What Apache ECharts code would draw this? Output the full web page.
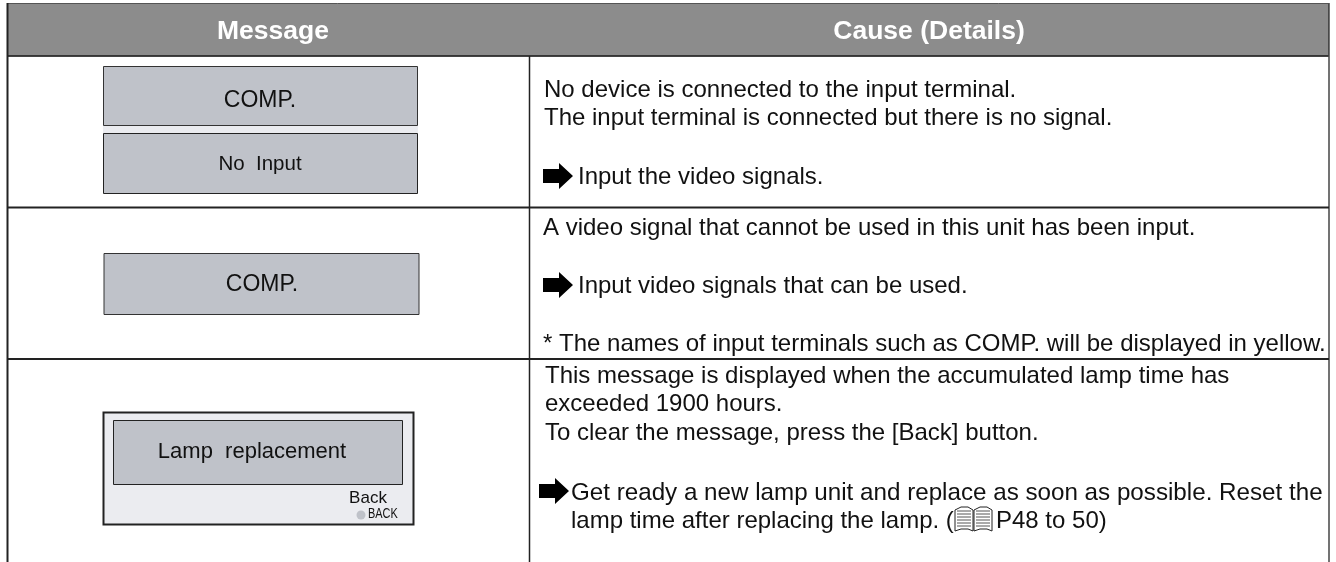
<!DOCTYPE html>
<html><head><meta charset="utf-8">
<style>html,body{margin:0;padding:0;background:#fff}#c{width:1336px;height:562px}</style>
<script src="https://cdn.jsdelivr.net/npm/echarts@6/dist/echarts.min.js"></script>
</head><body><div id="c"></div>
<script>
const headers = ["Message", "Cause (Details)"];
const messages = ["COMP.", "No  Input", "COMP.", "Lamp  replacement", "Back", "BACK"];
const causes = [
  "No device is connected to the input terminal.",
  "The input terminal is connected but there is no signal.",
  "Input the video signals.",
  "A video signal that cannot be used in this unit has been input.",
  "Input video signals that can be used.",
  "* The names of input terminals such as COMP. will be displayed in yellow.",
  "This message is displayed when the accumulated lamp time has",
  "exceeded 1900 hours.",
  "To clear the message, press the [Back] button.",
  "Get ready a new lamp unit and replace as soon as possible. Reset the",
  "lamp time after replacing the lamp. (",
  "P48 to 50)"
];
const F = '"Liberation Sans", Arial, sans-serif';
const INK = '#111', PANEL = '#bfc2c9', LIGHT = '#ebecf0';
const els = [];
const rect = (x, y, w, h, fill, stroke, lw) => els.push({type:'rect', shape:{x, y, width:w, height:h}, style:{fill: fill || 'transparent', stroke: stroke || null, lineWidth: lw || 0}});
const line = (x1, y1, x2, y2, lw, c) => els.push({type:'line', shape:{x1, y1, x2, y2}, style:{stroke: c || '#222', lineWidth: lw}});
const text = (x, y, t, size, opt, extra) => els.push(Object.assign({type:'text', x, y, style:Object.assign({text:t, font:`${size}px ${F}`, fill:INK, textAlign:'left', textVerticalAlign:'middle'}, opt || {})}, extra || {}));
const arrow = (x, y) => els.push({type:'polygon', shape:{points:[[x,y+6],[x+16,y+6],[x+16,y],[x+30,y+13],[x+16,y+26],[x+16,y+20],[x,y+20]]}, style:{fill:'#000'}});
const book = (x, y) => {
  [0, 19].forEach(dx => {
    els.push({type:'polygon', shape:{points:[[x+dx,y+3],[x+dx+6,y],[x+dx+13,y],[x+dx+18,y+3],[x+dx+18,y+24],[x+dx+13,y+22],[x+dx+6,y+22],[x+dx,y+24]]}, style:{fill:'#fff', stroke:'#222', lineWidth:1}});
    [4, 7, 10, 13, 16, 19].forEach(o => line(x+dx+2, y+o, x+dx+16, y+o, 1, '#555'));
  });
};

// header band and rules
rect(7.5, 3.5, 1321, 52.5, '#8c8c8c', '#555', 1);
line(7.5, 56, 1329, 56, 1.5);
line(7.5, 3, 7.5, 562, 2);
line(1329, 3, 1329, 562, 1.5, '#444');
line(529.5, 56, 529.5, 562, 1.5);
line(7, 207.5, 1329, 207.5, 2);
line(7, 359, 1329, 359, 2);
els.push({type:'text', x:273, y:32, style:{text:headers[0], font:`bold 26.5px ${F}`, fill:'#fff', textAlign:'center', textVerticalAlign:'middle'}});
els.push({type:'text', x:929, y:32, style:{text:headers[1], font:`bold 26.5px ${F}`, fill:'#fff', textAlign:'center', textVerticalAlign:'middle'}});

// message panels
rect(103, 126, 315, 8, LIGHT);
rect(103.5, 66.5, 314, 59, PANEL, '#333', 1);
rect(103.5, 133.5, 314, 60, PANEL, '#222', 1);
rect(104, 253.5, 315, 61, PANEL, '#333', 1);
rect(103.5, 412.5, 310, 112, LIGHT, '#222', 2);
rect(113.5, 420.5, 289, 64, PANEL, '#222', 1);
const mc = {textAlign:'center'};
text(260, 101, messages[0], 23, mc);
text(260, 164, messages[1], 20.5, mc);
text(262, 284.5, messages[2], 23, mc);
text(252, 452, messages[3], 22, mc);
text(368, 498, messages[4], 17, mc);
text(368, 514, messages[5], 14, null, {scaleX:0.78});
els.push({type:'circle', shape:{cx:361, cy:515, r:4.5}, style:{fill:PANEL}});

// cause text
const ys = [90, 118, 177, 228, 286, 344, 376, 404, 433, 493, 521];
const xs = [544, 544, 578, 543, 578, 543, 545, 545, 545, 571, 571];
const sizes = [24, 24, 24, 24, 24, 24, 24, 24, 24, 24.2, 24];
ys.forEach((y, i) => text(xs[i], y, causes[i], sizes[i]));
book(955, 507);
text(996, 521, causes[11], 24);
arrow(543, 163); arrow(543, 272); arrow(539, 478);

echarts.init(document.getElementById('c'), null, {renderer:'canvas'}).setOption({animation:false, graphic:{elements:els}});
</script></body></html>
